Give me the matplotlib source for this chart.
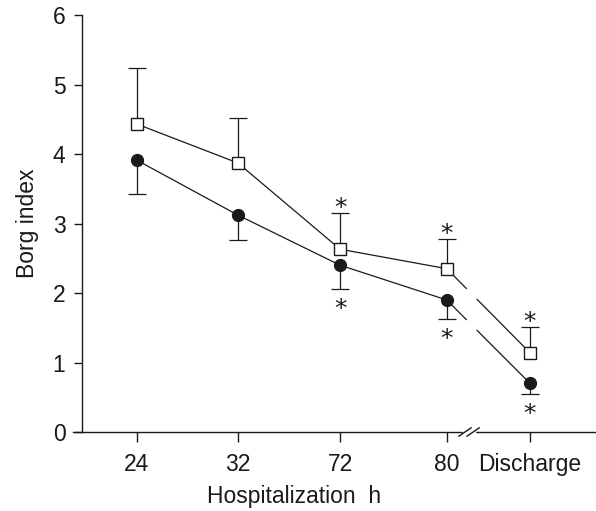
import matplotlib
matplotlib.use("Agg")
import matplotlib.pyplot as plt
import numpy as np

plt.rcParams['font.family'] = ['Liberation Sans', 'DejaVu Sans']

categories = ["24", "32", "72", "80", "Discharge"]
cat_pos = [0.0, 0.995, 2.0, 3.05, 3.87]

square_vals = [4.43, 3.87, 2.63, 2.35, 1.14]
square_err_up = [0.81, 0.65, 0.52, 0.43, 0.37]
circle_vals = [3.91, 3.12, 2.40, 1.90, 0.70]
circle_err_down = [0.49, 0.36, 0.34, 0.27, 0.15]
star_square = [False, False, True, True, True]
star_circle = [False, False, True, True, True]

fig = plt.figure(figsize=(5.96, 5.11), dpi=100)
ax = fig.add_axes([73/596, 79/511, 523/596, 417/511])
ax.set_xlim(-0.63, 4.52)
ax.set_ylim(0, 6)

lw = 0.9
col = "#1a1a1a"

sq_top = [v + e for v, e in zip(square_vals, square_err_up)]
ci_bot = [v - e for v, e in zip(circle_vals, circle_err_down)]

# error bars (one-sided)
ax.vlines(cat_pos, square_vals, sq_top, color=col, lw=lw, zorder=2)
ax.plot(cat_pos, sq_top, ls='none', marker='_', ms=13, mew=lw, color=col, zorder=2)
ax.vlines(cat_pos, ci_bot, circle_vals, color=col, lw=lw, zorder=2)
ax.plot(cat_pos, ci_bot, ls='none', marker='_', ms=13, mew=lw, color=col, zorder=2)

# connecting lines with break between last two points
f1, f2 = 0.235, 0.365
for vals in (square_vals, circle_vals):
    ax.plot(cat_pos[:4], vals[:4], color=col, lw=lw, zorder=3)
    x0, x1 = cat_pos[3], cat_pos[4]
    y0, y1 = vals[3], vals[4]
    ax.plot([x0, x0 + f1*(x1-x0)], [y0, y0 + f1*(y1-y0)], color=col, lw=lw, zorder=3)
    ax.plot([x0 + f2*(x1-x0), x1], [y0 + f2*(y1-y0), y1], color=col, lw=lw, zorder=3)

ax.plot(cat_pos, square_vals, ls='none', marker='s', ms=8, mfc='white', mec=col, mew=1.0, zorder=4)
ax.plot(cat_pos, circle_vals, ls='none', marker='o', ms=8.5, mfc=col, mec=col, zorder=4)

# asterisks
for x, t, s in zip(cat_pos, sq_top, star_square):
    if s:
        ax.annotate('*', (x, t), xytext=(0, -5), textcoords='offset points',
                    ha='center', va='bottom', fontsize=18, color=col,
                    family=['DejaVu Sans'])
for x, b, s in zip(cat_pos, ci_bot, star_circle):
    if s:
        ax.annotate('*', (x, b), xytext=(0, -6), textcoords='offset points',
                    ha='center', va='top', fontsize=18, color=col,
                    family=['DejaVu Sans'])

# spines
for sp in ('top', 'right'):
    ax.spines[sp].set_visible(False)
ax.spines['left'].set_position(('data', -0.54))
ax.spines['left'].set_bounds(0, 6)
ax.spines['left'].set_linewidth(1.0)
ax.spines['bottom'].set_linewidth(1.0)
ax.spines['left'].set_color(col)
ax.spines['bottom'].set_color(col)

ax.set_yticks(range(0, 7))
ax.set_xticks(cat_pos)
ax.set_xticklabels(categories)
ax.tick_params(axis='y', direction='out', length=6, width=1.0, labelsize=16.5, pad=6, colors=col)
ax.tick_params(axis='x', direction='out', length=7, width=1.0, labelsize=16.5, pad=8, colors=col)

# axis break mark
bx = 3.27
for dx in (-0.04, 0.04):
    ax.plot([bx + dx - 0.06, bx + dx + 0.06], [-0.06, 0.06], color=col, lw=1.0,
            clip_on=False, zorder=5)
ax.plot([bx - 0.05, bx + 0.05], [0, 0], color='white', lw=2.5, clip_on=False, zorder=4.5)

ax.set_ylabel("Borg index", fontsize=16.5, labelpad=10, color=col)
fig.text(294/596, 1 - 496/511, "Hospitalization  h", ha='center', va='center', fontsize=16.5, color=col)

fig.savefig("out.png", dpi=100)
